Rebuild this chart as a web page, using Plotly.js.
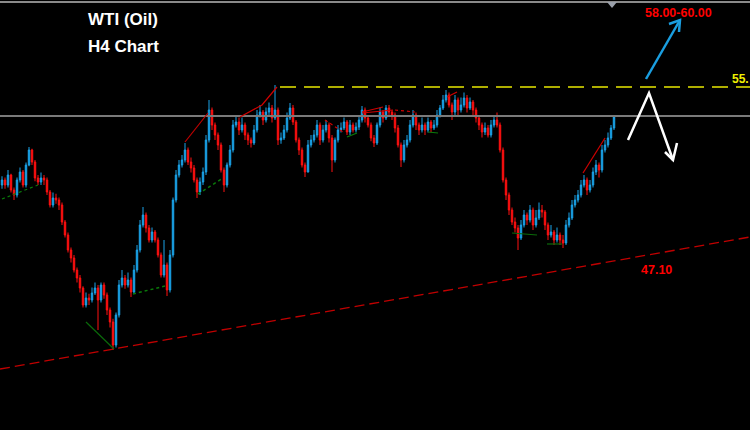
<!DOCTYPE html>
<html><head><meta charset="utf-8">
<script src="https://cdn.plot.ly/plotly-3.0.1.min.js"></script>
<style>html,body{margin:0;padding:0;background:#000;}#chart{width:750px;height:430px;}</style>
</head><body><div id="chart"></div>
<script>
const firstOpen = 51.10;
const close = [51.30,51.10,51.50,50.90,50.70,51.30,51.62,51.10,51.90,52.50,
52.02,51.38,51.22,51.38,51.30,50.82,50.30,50.58,50.50,50.30,
49.62,49.10,48.50,48.18,47.70,47.38,46.98,46.30,46.58,46.50,
46.78,46.98,46.50,47.10,46.70,46.10,45.62,44.70,45.90,47.10,
47.38,47.10,47.30,46.82,47.70,48.50,49.50,49.90,49.38,48.90,
49.22,48.90,48.30,47.50,47.90,46.90,48.30,50.50,51.50,51.90,
52.10,52.50,52.02,51.78,51.30,50.82,51.22,51.62,52.90,54.10,
53.50,53.10,52.70,51.70,51.10,51.90,52.50,53.50,53.62,53.30,
53.50,53.10,52.90,52.78,53.30,53.90,54.02,53.70,54.02,54.18,
53.78,54.10,52.90,52.98,53.30,53.78,54.18,53.62,52.90,52.50,
51.90,51.62,52.70,52.90,53.10,53.50,52.90,53.30,53.50,52.98,
52.10,52.90,53.30,53.38,53.62,53.22,53.50,53.30,53.42,53.70,
54.10,53.78,53.50,52.98,52.78,53.50,54.02,53.78,54.18,54.02,
53.90,53.38,52.70,52.10,52.70,52.90,53.50,53.90,53.50,53.30,
53.50,53.30,53.62,53.38,53.50,53.90,54.18,54.50,54.70,54.30,
54.02,54.50,54.10,54.30,54.58,54.18,54.42,54.10,53.78,53.50,
53.22,53.38,53.10,53.50,53.70,53.50,52.50,51.30,50.70,50.10,
49.62,49.38,48.98,49.50,49.90,49.70,50.10,49.50,49.78,50.10,
50.02,49.50,49.10,49.22,48.90,49.10,48.90,48.78,49.50,49.78,
50.30,50.50,50.70,51.10,51.30,50.90,51.10,51.62,51.90,51.70,
52.50,52.70,52.98,53.38,53.82];
const high = [51.45,51.40,51.70,51.55,51.00,51.40,51.80,51.70,52.00,52.62,
52.55,52.10,51.50,51.60,51.50,51.40,50.90,50.80,50.75,50.60,
50.40,49.70,49.20,48.60,48.30,47.80,47.50,47.05,46.80,46.75,
47.00,47.20,47.10,47.20,47.20,46.80,46.20,45.75,46.00,47.30,
47.70,47.50,47.60,47.40,47.90,48.70,49.70,50.22,50.00,49.50,
49.40,49.30,49.00,48.40,48.90,48.00,48.50,50.60,51.70,52.10,
52.30,52.78,52.60,52.20,51.90,51.40,51.40,51.80,53.10,54.50,
54.20,53.60,53.20,52.80,51.80,52.00,52.70,53.70,53.90,53.80,
53.80,53.60,53.20,53.00,53.50,54.10,54.30,54.10,54.20,54.40,
54.30,55.10,54.20,53.20,53.50,54.00,54.38,54.30,53.70,53.00,
52.60,52.00,52.90,53.10,53.30,53.70,53.60,53.50,53.70,53.60,
53.10,53.00,53.50,53.60,53.80,53.70,53.70,53.60,53.60,53.90,
54.26,54.20,53.90,53.60,53.10,53.60,54.20,54.10,54.30,54.30,
54.10,54.00,53.50,52.80,52.90,53.10,53.70,54.10,54.00,53.60,
53.80,53.60,53.80,53.70,53.70,54.10,54.30,54.70,54.90,54.80,
54.40,54.70,54.60,54.60,54.80,54.70,54.60,54.50,54.20,53.90,
53.60,53.60,53.50,53.70,53.90,54.00,53.60,52.60,51.40,50.80,
50.20,49.80,49.50,49.70,50.10,50.00,50.30,50.20,50.10,50.40,
50.30,50.10,49.60,49.50,49.30,49.40,49.20,49.10,49.70,50.00,
50.50,50.70,50.90,51.30,51.50,51.40,51.30,51.80,52.10,52.00,
52.70,52.90,53.20,53.50,53.90];
const low = [50.95,50.95,51.00,50.80,50.50,50.60,51.20,51.00,51.00,51.85,
51.90,51.25,51.10,51.10,51.10,50.70,50.20,50.20,50.35,50.10,
49.50,49.00,48.40,48.00,47.60,47.20,46.80,46.20,46.20,46.30,
46.40,46.70,45.30,46.40,46.55,45.90,45.40,44.50,44.60,45.80,
47.00,46.95,47.00,46.62,46.75,47.60,48.40,49.40,49.20,48.80,
48.80,48.80,48.20,47.40,47.40,46.66,46.80,48.20,50.40,51.40,
51.80,52.00,51.90,51.60,51.20,50.58,50.70,51.10,51.50,52.80,
53.30,52.90,52.50,51.60,50.82,51.00,51.80,52.40,53.40,53.10,
53.20,52.90,52.70,52.60,52.70,53.20,53.80,53.50,53.60,53.90,
53.60,53.70,52.70,52.75,52.90,53.20,53.70,53.50,52.80,52.30,
51.80,51.42,51.60,52.60,52.80,53.00,52.70,52.80,53.20,52.80,
51.62,52.00,52.80,53.20,53.30,53.10,53.10,53.20,53.20,53.30,
53.60,53.60,53.40,52.85,52.62,52.70,53.40,53.60,53.70,53.90,
53.70,53.20,52.60,51.82,52.00,52.60,52.80,53.40,53.30,53.10,
53.20,53.10,53.20,53.20,53.30,53.40,53.80,54.10,54.40,54.20,
53.70,53.90,53.90,54.00,54.20,54.00,54.10,53.90,53.60,53.30,
53.00,53.10,53.00,53.00,53.40,53.40,52.40,51.20,50.50,49.90,
49.50,49.20,48.50,48.90,49.40,49.50,49.60,49.30,49.40,49.70,
49.80,49.30,48.90,49.00,48.70,48.80,48.70,48.58,48.70,49.40,
49.70,50.20,50.40,50.60,51.00,50.70,50.80,51.00,51.50,51.40,
51.60,52.40,52.60,52.90,53.30];
const open = close.map((c, i) => i === 0 ? firstOpen : close[i - 1]);
const bars = close.map((c, i) => i);

const bidLevel = 53.86;
const resistance = 55.02;
const titleLines = ['WTI (Oil)', 'H4 Chart'];
const targetLabel = '58.00-60.00';
const resLabel = '55.';
const supportLabel = '47.10';

// pixel -> paper helpers (layout positioning)
const PX = x => x / 750, PY = y => 1 - y / 430;
function path(pts) { return pts.map((p, k) => (k ? 'L' : 'M') + PX(p[0]).toFixed(5) + ',' + PY(p[1]).toFixed(5)).join(' '); }
function seg(x0, y0, x1, y1, color, width, dash) {
  return {type: 'line', xref: 'paper', yref: 'paper', x0: PX(x0), y0: PY(y0), x1: PX(x1), y1: PY(y1),
    line: {color: color, width: width, dash: dash || 'solid'}};
}
const shapes = [
  seg(0, 2, 750, 2, '#8a8a8a', 2),
  {type: 'path', xref: 'paper', yref: 'paper', path: path([[607,2],[617,2],[612,8]]) + ' Z', fillcolor: '#9aa0aa', line: {width: 0}},
  {type: 'line', xref: 'paper', yref: 'y', x0: 0, x1: 1, y0: bidLevel, y1: bidLevel, line: {color: '#7a7a7a', width: 1.8}},
  {type: 'line', xref: 'paper', yref: 'y', x0: PX(280), x1: 1, y0: resistance, y1: resistance, line: {color: '#e8e800', width: 1.5, dash: '16px,8px'}},
  seg(0, 369, 750, 237, '#c00000', 1.3, '10px,5px'),
  // zigzag pattern lines
  seg(2, 199, 38, 185, '#0a7a0a', 1.2, 'dot'),
  seg(86, 322, 114, 349, '#0a6a0a', 1.2),
  seg(133, 294, 165, 286, '#0a7a0a', 1.5, 'dot'),
  seg(198, 194, 223, 178, '#0a7a0a', 1.5, 'dot'),
  seg(347, 137, 357, 133, '#0a7a0a', 1.2),
  seg(428, 132, 438, 133, '#0a7a0a', 1.2),
  seg(512, 233, 537, 235, '#0a6a0a', 1.2),
  seg(547, 244, 562, 244, '#0a6a0a', 1.2),
  seg(185, 142, 208, 113, '#c00000', 1.2),
  {type: 'path', xref: 'paper', yref: 'paper', path: path([[240,117],[262,105],[277,87]]), line: {color: '#d00000', width: 1.2}},
  seg(325, 120, 343, 132, '#d00000', 1.2, 'dot'),
  seg(362, 112, 383, 107, '#d00000', 1.2),
  seg(362, 113, 393, 110, '#d00000', 1.2),
  seg(395, 110, 415, 112, '#d00000', 1.2, 'dot'),
  seg(447, 97, 457, 92, '#d00000', 1.2),
  seg(583, 173, 605, 138, '#d00000', 1.2),
  // blue arrow
  {type: 'path', xref: 'paper', yref: 'paper', path: path([[646,79],[680,20]]), line: {color: '#1a9ee0', width: 2.5}},
  {type: 'path', xref: 'paper', yref: 'paper', path: path([[669,24],[680,20],[679,32]]), line: {color: '#1a9ee0', width: 2.5}},
  // white arrow
  {type: 'path', xref: 'paper', yref: 'paper', path: path([[628,140],[649,93],[673,160]]), line: {color: '#ffffff', width: 2.5}},
  {type: 'path', xref: 'paper', yref: 'paper', path: path([[665,152],[673,160],[677,143]]), line: {color: '#ffffff', width: 2.5}}
];
const font = 'Liberation Sans, Arial, sans-serif';
const annotations = [
  {xref: 'paper', yref: 'paper', x: PX(86), y: PY(20), xanchor: 'left', yanchor: 'middle', text: '<b>' + titleLines[0] + '</b>', showarrow: false, font: {family: font, size: 17, color: '#ffffff'}},
  {xref: 'paper', yref: 'paper', x: PX(86), y: PY(46), xanchor: 'left', yanchor: 'middle', text: '<b>' + titleLines[1] + '</b>', showarrow: false, font: {family: font, size: 17, color: '#ffffff'}},
  {xref: 'paper', yref: 'paper', x: PX(678), y: PY(13), xanchor: 'center', yanchor: 'middle', text: '<b>' + targetLabel + '</b>', showarrow: false, font: {family: font, size: 12.5, color: '#ff0000'}},
  {xref: 'paper', yref: 'paper', x: 1, y: PY(79), xanchor: 'right', yanchor: 'middle', text: '<b>' + resLabel + '</b>', showarrow: false, borderpad: 0, font: {family: font, size: 12, color: '#f0f000'}},
  {xref: 'paper', yref: 'paper', x: PX(656), y: PY(270), xanchor: 'center', yanchor: 'middle', text: '<b>' + supportLabel + '</b>', showarrow: false, font: {family: font, size: 12.5, color: '#ff0000'}}
];
const trace = {
  type: 'candlestick', x: bars, open: open, high: high, low: low, close: close,
  increasing: {line: {color: '#1aa3e8', width: 1}, fillcolor: '#1aa3e8'},
  decreasing: {line: {color: '#ff1010', width: 1}, fillcolor: '#ff1010'},
  whiskerwidth: 0, hoverinfo: 'skip'
};
const layout = {
  width: 750, height: 430, margin: {l: 0, r: 0, t: 0, b: 0},
  paper_bgcolor: '#000000', plot_bgcolor: '#000000', showlegend: false,
  xaxis: {visible: false, range: [-0.667, 249.333], rangeslider: {visible: false}, fixedrange: true},
  yaxis: {visible: false, range: [41.3, 58.5], fixedrange: true},
  shapes: shapes, annotations: annotations
};
Plotly.newPlot('chart', [trace], layout, {displayModeBar: false, staticPlot: true});
</script></body></html>
